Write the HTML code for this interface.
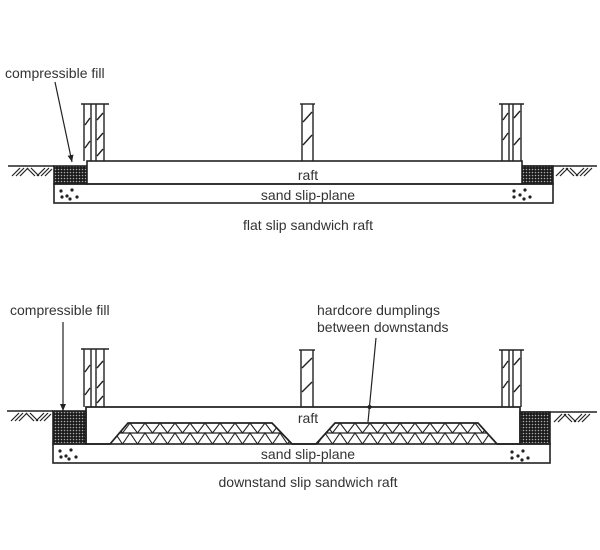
<!DOCTYPE html>
<html>
<head>
<meta charset="utf-8">
<style>
html,body{margin:0;padding:0;background:#fff;}
svg{display:block;}
text{font-family:"Liberation Sans",sans-serif;font-size:14px;fill:#333;}
</style>
</head>
<body>
<svg width="600" height="550" viewBox="0 0 600 550" xmlns="http://www.w3.org/2000/svg">
<defs>
  <pattern id="fill" width="3" height="3" patternUnits="userSpaceOnUse">
    <rect width="3" height="3" fill="#1a1a1a"/>
    <circle cx="1.5" cy="1.5" r="0.8" fill="#aaa"/>
  </pattern>
  <marker id="arr" markerWidth="8" markerHeight="8" refX="7" refY="4" orient="auto" markerUnits="userSpaceOnUse">
    <path d="M0,1 L7,4 L0,7 Z" fill="#222"/>
  </marker>
  <clipPath id="hcL"><polygon points="110,444 128,423 272,423 292,444"/></clipPath>
  <clipPath id="hcR"><polygon points="316,444 335,423 478,423 497,444"/></clipPath>
  <g id="zig">
    <polyline fill="none" stroke="#222" stroke-width="1.1" points="100,423 107.5,433 115,423 122.5,433 130,423 137.5,433 145,423 152.5,433 160,423 167.5,433 175,423 182.5,433 190,423 197.5,433 205,423 212.5,433 220,423 227.5,433 235,423 242.5,433 250,423 257.5,433 265,423 272.5,433 280,423 287.5,433 295,423 302.5,433 310,423 317.5,433 325,423 332.5,433 340,423 347.5,433 355,423 362.5,433 370,423 377.5,433 385,423 392.5,433 400,423 407.5,433 415,423 422.5,433 430,423 437.5,433 445,423 452.5,433 460,423 467.5,433 475,423 482.5,433 490,423 497.5,433 505,423"/>
    <polyline fill="none" stroke="#222" stroke-width="1.1" points="100,433 107.5,444 115,433 122.5,444 130,433 137.5,444 145,433 152.5,444 160,433 167.5,444 175,433 182.5,444 190,433 197.5,444 205,433 212.5,444 220,433 227.5,444 235,433 242.5,444 250,433 257.5,444 265,433 272.5,444 280,433 287.5,444 295,433 302.5,444 310,433 317.5,444 325,433 332.5,444 340,433 347.5,444 355,433 362.5,444 370,433 377.5,444 385,433 392.5,444 400,433 407.5,444 415,433 422.5,444 430,433 437.5,444 445,433 452.5,444 460,433 467.5,444 475,433 482.5,444 490,433 497.5,444 505,433"/>
    <line x1="100" y1="433" x2="510" y2="433" stroke="#222" stroke-width="1.3"/>
  </g>
</defs>

<g stroke="#222" fill="none" stroke-width="1.6">
<!-- ============ TOP DIAGRAM ============ -->
<line x1="8" y1="166" x2="54" y2="166"/>
<g stroke-width="1.2">
  <line x1="12" y1="176" x2="20" y2="168"/><line x1="16" y1="176" x2="24" y2="168"/><line x1="20" y1="176" x2="28" y2="168"/>
  <line x1="27" y1="168" x2="35" y2="176"/><line x1="31" y1="168" x2="39" y2="176"/>
  <line x1="37" y1="176" x2="45" y2="168"/><line x1="41" y1="176" x2="49" y2="168"/><line x1="45" y1="176" x2="52" y2="169"/>
</g>
<line x1="522" y1="166" x2="597" y2="166"/>
<g stroke-width="1.2">
  <line x1="556" y1="176" x2="564" y2="168"/><line x1="560" y1="176" x2="568" y2="168"/>
  <line x1="566" y1="168" x2="574" y2="176"/><line x1="570" y1="168" x2="578" y2="176"/>
  <line x1="576" y1="176" x2="584" y2="168"/><line x1="580" y1="176" x2="588" y2="168"/><line x1="584" y1="176" x2="592" y2="168"/>
</g>
<rect x="54" y="166" width="33" height="18" fill="url(#fill)"/>
<rect x="522" y="166" width="31" height="18" fill="url(#fill)"/>
<rect x="87" y="161" width="435" height="23" fill="#fff"/>
<rect x="54" y="184" width="499" height="19"/>
<g stroke-width="1.4">
  <line x1="81" y1="104" x2="109" y2="104"/>
  <line x1="84" y1="104" x2="84" y2="161"/><line x1="91" y1="104" x2="91" y2="161"/>
  <line x1="96" y1="104" x2="96" y2="161"/><line x1="104" y1="104" x2="104" y2="161"/>
  <line x1="85" y1="125" x2="90" y2="118"/><line x1="85" y1="148" x2="90" y2="141"/>
  <line x1="97" y1="120" x2="103" y2="113"/><line x1="97" y1="140" x2="103" y2="133"/><line x1="97" y1="156" x2="103" y2="149"/>

  <line x1="300" y1="104" x2="315" y2="104"/>
  <line x1="302" y1="104" x2="302" y2="161"/><line x1="313" y1="104" x2="313" y2="161"/>
  <line x1="303" y1="122" x2="312" y2="112"/><line x1="303" y1="145" x2="312" y2="135"/>

  <line x1="499" y1="104" x2="524" y2="104"/>
  <line x1="502" y1="104" x2="502" y2="161"/><line x1="509" y1="104" x2="509" y2="161"/>
  <line x1="513" y1="104" x2="513" y2="161"/><line x1="521" y1="104" x2="521" y2="161"/>
  <line x1="503" y1="140" x2="508" y2="133"/><line x1="503" y1="120" x2="508" y2="113"/>
  <line x1="514" y1="118" x2="520" y2="111"/><line x1="514" y1="145" x2="520" y2="138"/>
</g>
<line x1="55" y1="82" x2="72" y2="162" stroke-width="1.2" marker-end="url(#arr)"/>

<!-- ============ BOTTOM DIAGRAM ============ -->
<line x1="7" y1="411" x2="53" y2="411"/>
<g stroke-width="1.2">
  <line x1="11" y1="421" x2="19" y2="413"/><line x1="15" y1="421" x2="23" y2="413"/><line x1="19" y1="421" x2="27" y2="413"/>
  <line x1="26" y1="413" x2="34" y2="421"/><line x1="30" y1="413" x2="38" y2="421"/>
  <line x1="36" y1="421" x2="44" y2="413"/><line x1="40" y1="421" x2="48" y2="413"/><line x1="44" y1="421" x2="51" y2="414"/>
</g>
<line x1="520" y1="412" x2="597" y2="412"/>
<g stroke-width="1.2">
  <line x1="554" y1="422" x2="562" y2="414"/><line x1="558" y1="422" x2="566" y2="414"/>
  <line x1="564" y1="414" x2="572" y2="422"/><line x1="568" y1="414" x2="576" y2="422"/>
  <line x1="574" y1="422" x2="582" y2="414"/><line x1="578" y1="422" x2="586" y2="414"/><line x1="582" y1="422" x2="590" y2="414"/>
</g>
<rect x="53" y="411" width="33" height="33" fill="url(#fill)"/>
<rect x="520" y="412" width="30" height="32" fill="url(#fill)"/>
<g clip-path="url(#hcL)"><use href="#zig"/></g>
<g clip-path="url(#hcR)"><use href="#zig"/></g>
<path d="M86,444 L86,407 L520,407 L520,444 L497,444 L478,423 L335,423 L316,444 L292,444 L272,423 L128,423 L110,444 Z" stroke-width="1.7"/>
<rect x="53" y="444" width="497" height="19"/>
<g stroke-width="1.4">
  <line x1="81" y1="349" x2="109" y2="349"/>
  <line x1="84" y1="349" x2="84" y2="407"/><line x1="91" y1="349" x2="91" y2="407"/>
  <line x1="96" y1="349" x2="96" y2="407"/><line x1="104" y1="349" x2="104" y2="407"/>
  <line x1="85" y1="372" x2="90" y2="365"/><line x1="85" y1="395" x2="90" y2="388"/>
  <line x1="97" y1="368" x2="103" y2="361"/><line x1="97" y1="388" x2="103" y2="381"/><line x1="97" y1="403" x2="103" y2="396"/>

  <line x1="299" y1="350" x2="315" y2="350"/>
  <line x1="301" y1="350" x2="301" y2="407"/><line x1="313" y1="350" x2="313" y2="407"/>
  <line x1="302" y1="368" x2="312" y2="358"/><line x1="302" y1="392" x2="312" y2="382"/>

  <line x1="499" y1="350" x2="524" y2="350"/>
  <line x1="502" y1="350" x2="502" y2="407"/><line x1="509" y1="350" x2="509" y2="407"/>
  <line x1="513" y1="350" x2="513" y2="407"/><line x1="521" y1="350" x2="521" y2="407"/>
  <line x1="503" y1="388" x2="508" y2="381"/><line x1="503" y1="368" x2="508" y2="361"/>
  <line x1="514" y1="365" x2="520" y2="358"/><line x1="514" y1="392" x2="520" y2="385"/>
</g>
<line x1="63" y1="322" x2="63" y2="411" stroke-width="1.2" marker-end="url(#arr)"/>
<line x1="376" y1="338" x2="368" y2="422" stroke-width="1.2"/>
</g>
<circle cx="369.5" cy="407" r="2" fill="#222"/>

<g fill="#222">
  <circle cx="61" cy="191" r="1.6"/><circle cx="62" cy="197" r="1.6"/><circle cx="67" cy="196" r="1.6"/>
  <circle cx="72" cy="190" r="1.6"/><circle cx="70" cy="199" r="1.6"/><circle cx="77" cy="197" r="1.6"/>
  <circle cx="514" cy="191" r="1.6"/><circle cx="514" cy="197" r="1.6"/><circle cx="520" cy="195" r="1.6"/>
  <circle cx="525" cy="190" r="1.6"/><circle cx="524" cy="199" r="1.6"/><circle cx="530" cy="197" r="1.6"/>
  <circle cx="60" cy="451" r="1.6"/><circle cx="61" cy="457" r="1.6"/><circle cx="66" cy="456" r="1.6"/>
  <circle cx="71" cy="450" r="1.6"/><circle cx="69" cy="459" r="1.6"/><circle cx="76" cy="457" r="1.6"/>
  <circle cx="512" cy="452" r="1.6"/><circle cx="512" cy="458" r="1.6"/><circle cx="518" cy="456" r="1.6"/>
  <circle cx="523" cy="451" r="1.6"/><circle cx="522" cy="460" r="1.6"/><circle cx="528" cy="458" r="1.6"/>
</g>

<text x="5" y="78">compressible fill</text>
<text x="308" y="180" text-anchor="middle">raft</text>
<text x="308" y="200" text-anchor="middle">sand slip-plane</text>
<text x="308" y="230" text-anchor="middle">flat slip sandwich raft</text>

<text x="10" y="315">compressible fill</text>
<text x="317" y="315">hardcore dumplings</text>
<text x="317" y="332">between downstands</text>
<text x="308" y="423" text-anchor="middle">raft</text>
<text x="308" y="459" text-anchor="middle">sand slip-plane</text>
<text x="308" y="487" text-anchor="middle">downstand slip sandwich raft</text>
</svg>
</body>
</html>
